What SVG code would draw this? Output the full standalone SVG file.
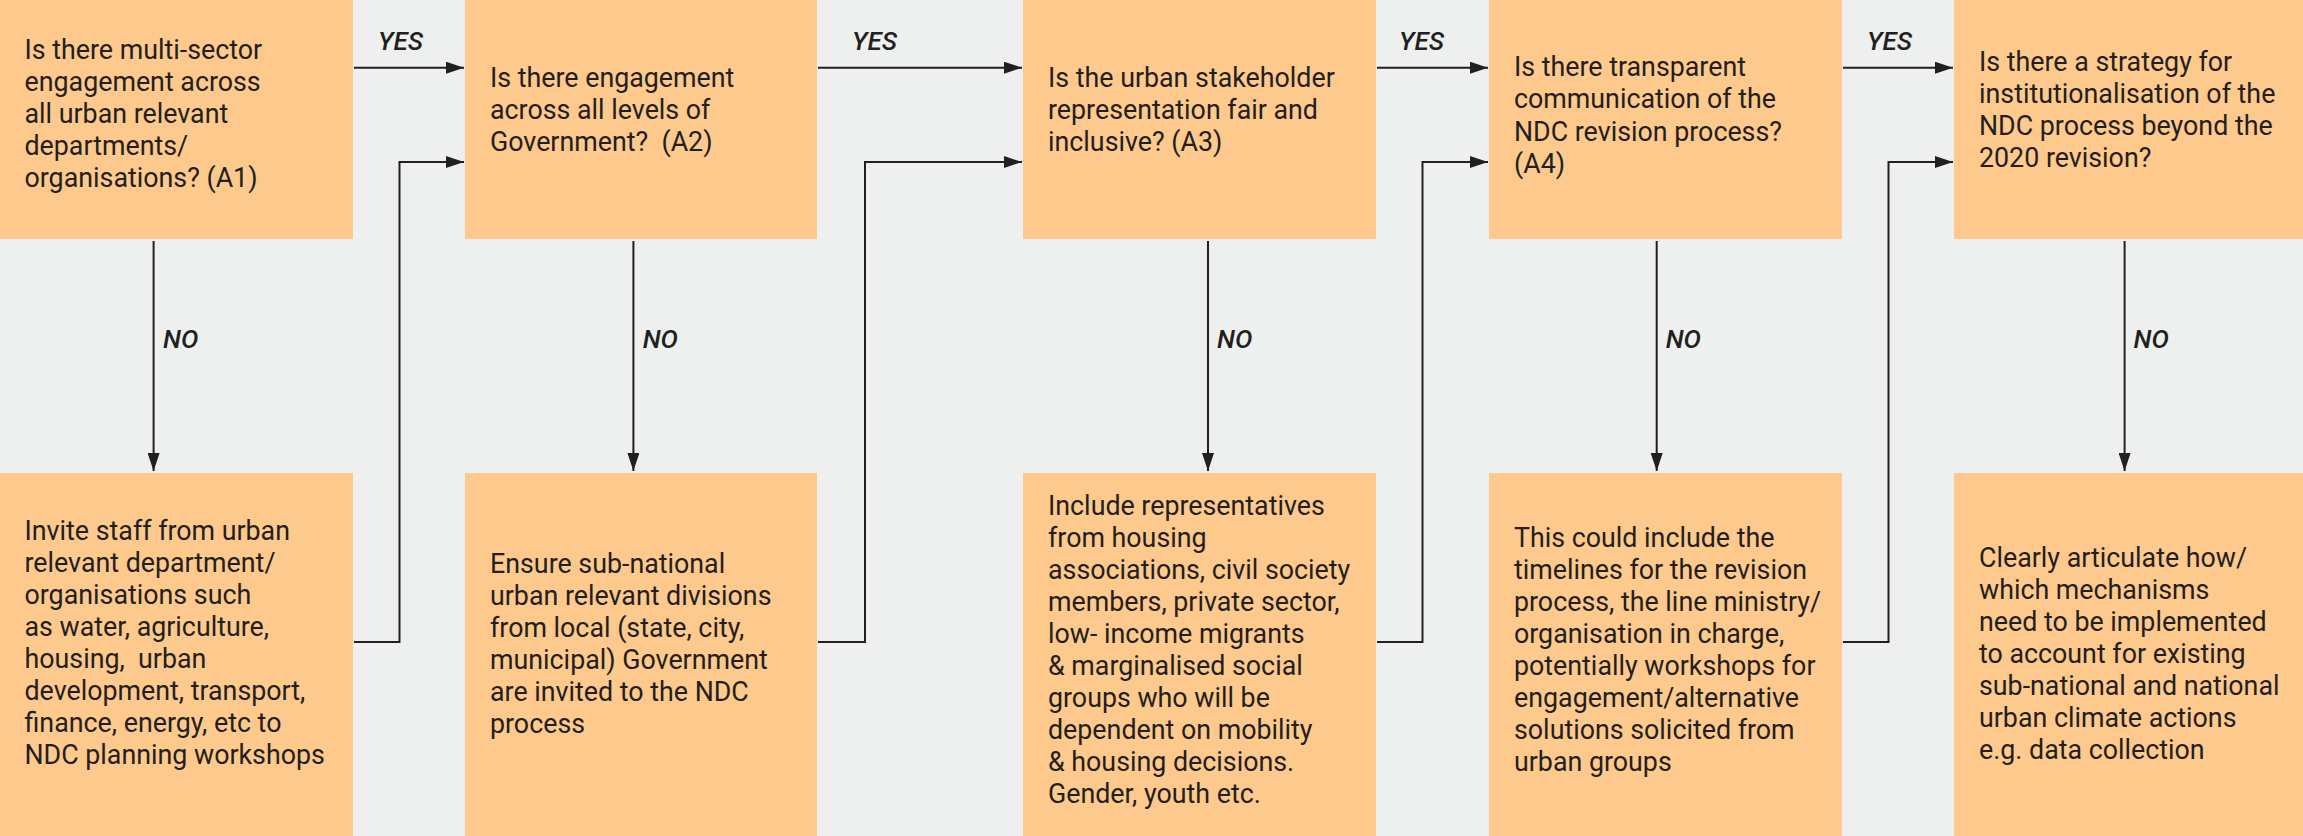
<svg xmlns="http://www.w3.org/2000/svg" width="2303" height="836" viewBox="0 0 2303 836">
<style>
.bg{fill:#eef0ef}
.box{fill:#fdc98c}
.t{font-family:Roboto,"Liberation Sans",sans-serif;font-size:26.8px;fill:#231f20}
.lbl{font-family:Roboto,"Liberation Sans",sans-serif;font-size:26px;font-style:italic;font-weight:500;fill:#231f20}
.c{fill:none;stroke:#231f20;stroke-width:2}
</style>
<defs>
<marker id="ah" markerUnits="userSpaceOnUse" markerWidth="18" markerHeight="12" refX="18" refY="6" orient="auto">
<path d="M0,0 L18,6 L0,12 z" fill="#231f20"/>
</marker>
</defs>
<rect class="bg" x="0" y="0" width="2303" height="836"/>

<g id="q1"><rect class="box" x="0" y="0" width="353" height="239"/>
<text class="t"><tspan x="24.5" y="59.3">Is there multi-sector</tspan><tspan x="24.5" dy="32">engagement across</tspan><tspan x="24.5" dy="32">all urban relevant</tspan><tspan x="24.5" dy="32">departments/</tspan><tspan x="24.5" dy="32">organisations? (A1)</tspan></text></g>

<g id="q2"><rect class="box" x="465" y="0" width="352" height="239"/>
<text class="t" xml:space="preserve"><tspan x="490" y="87.3">Is there engagement</tspan><tspan x="490" dy="31.7">across all levels of</tspan><tspan x="490" dy="31.7">Government?  (A2)</tspan></text></g>

<g id="q3"><rect class="box" x="1023" y="0" width="353" height="239"/>
<text class="t"><tspan x="1048" y="87.3">Is the urban stakeholder</tspan><tspan x="1048" dy="31.7">representation fair and</tspan><tspan x="1048" dy="31.7">inclusive? (A3)</tspan></text></g>

<g id="q4"><rect class="box" x="1489" y="0" width="353" height="239"/>
<text class="t"><tspan x="1514" y="76">Is there transparent</tspan><tspan x="1514" dy="32.4">communication of the</tspan><tspan x="1514" dy="32.4">NDC revision process?</tspan><tspan x="1514" dy="32.4">(A4)</tspan></text></g>

<g id="q5"><rect class="box" x="1954" y="0" width="349" height="239"/>
<text class="t"><tspan x="1979" y="71">Is there a strategy for</tspan><tspan x="1979" dy="31.9">institutionalisation of the</tspan><tspan x="1979" dy="31.9">NDC process beyond the</tspan><tspan x="1979" dy="31.9">2020 revision?</tspan></text></g>

<g id="a1"><rect class="box" x="0" y="473" width="353" height="363"/>
<text class="t" xml:space="preserve"><tspan x="24.5" y="540">Invite staff from urban</tspan><tspan x="24.5" dy="32">relevant department/</tspan><tspan x="24.5" dy="32">organisations such</tspan><tspan x="24.5" dy="32">as water, agriculture,</tspan><tspan x="24.5" dy="32">housing,  urban</tspan><tspan x="24.5" dy="32">development, transport,</tspan><tspan x="24.5" dy="32">finance, energy, etc to</tspan><tspan x="24.5" dy="32">NDC planning workshops</tspan></text></g>

<g id="a2"><rect class="box" x="465" y="473" width="352" height="363"/>
<text class="t"><tspan x="490" y="573.3">Ensure sub-national</tspan><tspan x="490" dy="32">urban relevant divisions</tspan><tspan x="490" dy="32">from local (state, city,</tspan><tspan x="490" dy="32">municipal) Government</tspan><tspan x="490" dy="32">are invited to the NDC</tspan><tspan x="490" dy="32">process</tspan></text></g>

<g id="a3"><rect class="box" x="1023" y="473" width="353" height="363"/>
<text class="t"><tspan x="1048" y="515">Include representatives</tspan><tspan x="1048" dy="32">from housing</tspan><tspan x="1048" dy="32">associations, civil society</tspan><tspan x="1048" dy="32">members, private sector,</tspan><tspan x="1048" dy="32">low- income migrants</tspan><tspan x="1048" dy="32">&amp; marginalised social</tspan><tspan x="1048" dy="32">groups who will be</tspan><tspan x="1048" dy="32">dependent on mobility</tspan><tspan x="1048" dy="32">&amp; housing decisions.</tspan><tspan x="1048" dy="32">Gender, youth etc.</tspan></text></g>

<g id="a4"><rect class="box" x="1489" y="473" width="353" height="363"/>
<text class="t"><tspan x="1514" y="546.7">This could include the</tspan><tspan x="1514" dy="32">timelines for the revision</tspan><tspan x="1514" dy="32">process, the line ministry/</tspan><tspan x="1514" dy="32">organisation in charge,</tspan><tspan x="1514" dy="32">potentially workshops for</tspan><tspan x="1514" dy="32">engagement/alternative</tspan><tspan x="1514" dy="32">solutions solicited from</tspan><tspan x="1514" dy="32">urban groups</tspan></text></g>

<g id="a5"><rect class="box" x="1954" y="473" width="349" height="363"/>
<text class="t"><tspan x="1979" y="566.7">Clearly articulate how/</tspan><tspan x="1979" dy="32">which mechanisms</tspan><tspan x="1979" dy="32">need to be implemented</tspan><tspan x="1979" dy="32">to account for existing</tspan><tspan x="1979" dy="32">sub-national and national</tspan><tspan x="1979" dy="32">urban climate actions</tspan><tspan x="1979" dy="32">e.g. data collection</tspan></text></g>

<g id="connectors">
<path class="c" d="M354,67.7 H464" marker-end="url(#ah)"/>
<path class="c" d="M818,67.7 H1022" marker-end="url(#ah)"/>
<path class="c" d="M1377,67.7 H1488" marker-end="url(#ah)"/>
<path class="c" d="M1843,67.7 H1953" marker-end="url(#ah)"/>
<path class="c" d="M354,642 H399.5 V162 H464" marker-end="url(#ah)"/>
<path class="c" d="M818,642 H865 V162 H1022" marker-end="url(#ah)"/>
<path class="c" d="M1377,642 H1422.5 V162 H1488" marker-end="url(#ah)"/>
<path class="c" d="M1843,642 H1888.5 V162 H1953" marker-end="url(#ah)"/>
<path class="c" d="M153.6,241 V471" marker-end="url(#ah)"/>
<path class="c" d="M633.4,241 V471" marker-end="url(#ah)"/>
<path class="c" d="M1208,241 V471" marker-end="url(#ah)"/>
<path class="c" d="M1656.7,241 V471" marker-end="url(#ah)"/>
<path class="c" d="M2124.6,241 V471" marker-end="url(#ah)"/>
<text class="lbl" x="378" y="50">YES</text>
<text class="lbl" x="852" y="50">YES</text>
<text class="lbl" x="1399" y="50">YES</text>
<text class="lbl" x="1867" y="50">YES</text>
<text class="lbl" x="163" y="347.7">NO</text>
<text class="lbl" x="642.7" y="347.7">NO</text>
<text class="lbl" x="1217" y="347.7">NO</text>
<text class="lbl" x="1665.7" y="347.7">NO</text>
<text class="lbl" x="2133.6" y="347.7">NO</text>
</g>
</svg>
